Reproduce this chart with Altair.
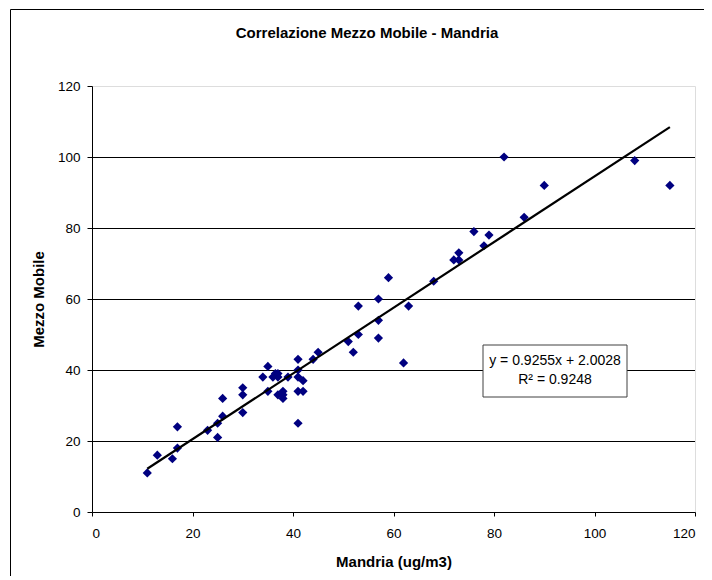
import altair as alt
import pandas as pd

# Data
mandria = [11, 13, 16, 17, 17, 23, 25, 25, 26, 26, 30, 30, 30, 34, 35, 35, 36, 36.5, 37, 37,
           37, 38, 38, 38, 39, 41, 41, 41, 42, 41, 42, 41, 44, 45, 51, 52, 53, 53, 57, 57,
           57, 59, 62, 63, 68, 72, 73, 73, 76, 78, 79, 82, 86, 90, 108, 115]
mezzo = [11, 16, 15, 24, 18, 23, 25, 21, 32, 27, 35, 33, 28, 38, 41, 34, 38, 39, 39, 38,
         33, 34, 33, 32, 38, 43, 40, 38, 37, 34, 34, 25, 43, 45, 48, 45, 58, 50, 60, 54,
         49, 66, 42, 58, 65, 71, 73, 71, 79, 75, 78, 100, 83, 92, 99, 92]

slope = 0.9255
intercept = 2.0028
trend_x = [11, 115]
grid_values = [20, 40, 60, 80, 100]
tick_values = [0, 20, 40, 60, 80, 100, 120]
title_text = "Correlazione Mezzo Mobile - Mandria"
eq_lines = ["y = 0.9255x + 2.0028", "R\u00b2 = 0.9248"]

FONT = "Liberation Sans"

pts = pd.DataFrame({"x": mandria, "y": mezzo})
trend = pd.DataFrame({"x": trend_x, "y": [slope * v + intercept for v in trend_x]})
grid = pd.DataFrame({"y": grid_values})
one = pd.DataFrame({"k": [0]})

xscale = alt.Scale(domain=[0, 120], nice=False, zero=False)
yscale = alt.Scale(domain=[0, 120], nice=False, zero=False)

xaxis = alt.Axis(values=tick_values, grid=False, tickSize=4, labelPadding=10,
                 labelFont=FONT, labelFontSize=13.5, labelColor="black",
                 domainColor="black", tickColor="black",
                 title="Mandria (ug/m3)", titleFont=FONT, titleFontSize=15,
                 titleFontWeight="bold", titleColor="black",
                 titleX=301.5, titleY=49, titleBaseline="middle", titleAlign="center")
yaxis = alt.Axis(values=tick_values, grid=False, tickSize=5, labelPadding=7,
                 labelFont=FONT, labelFontSize=13.5, labelColor="black",
                 domainColor="black", tickColor="black",
                 title="Mezzo Mobile", titleFont=FONT, titleFontSize=15,
                 titleFontWeight="bold", titleColor="black",
                 titleX=-54, titleY=213, titleAngle=270,
                 titleBaseline="middle", titleAlign="center")

border = alt.Chart(one).mark_rect(fill="white", fillOpacity=0, stroke="black",
                                  strokeWidth=1).encode(
    x=alt.value(-81.5), x2=alt.value(640), y=alt.value(-76.5), y2=alt.value(520))

title = alt.Chart(one).mark_text(text=title_text, font=FONT, fontSize=15, fontWeight="bold",
                                 color="black", align="center", baseline="middle").encode(
    x=alt.value(275), y=alt.value(-53))

gridlines = alt.Chart(grid).mark_rule(color="black", strokeWidth=1, yOffset=0.5).encode(
    y=alt.Y("y:Q", scale=yscale, axis=yaxis))

points = alt.Chart(pts).mark_point(shape="diamond", filled=True, color="#000080",
                                   size=85, opacity=1).encode(
    x=alt.X("x:Q", scale=xscale, axis=xaxis),
    y=alt.Y("y:Q", scale=yscale, axis=yaxis))

line = alt.Chart(trend).mark_line(color="black", strokeWidth=2.2).encode(
    x=alt.X("x:Q", scale=xscale), y=alt.Y("y:Q", scale=yscale))

box = alt.Chart(one).mark_rect(fill="white", stroke="#404040", strokeWidth=1).encode(
    x=alt.value(391), x2=alt.value(535), y=alt.value(259), y2=alt.value(311))

eq1 = alt.Chart(one).mark_text(text=eq_lines[0], font=FONT, fontSize=14, color="black",
                               align="center", baseline="middle").encode(
    x=alt.value(463), y=alt.value(275))
eq2 = alt.Chart(one).mark_text(text=eq_lines[1], font=FONT, fontSize=14, color="black",
                               align="center", baseline="middle").encode(
    x=alt.value(463), y=alt.value(294))

chart = alt.layer(border, title, gridlines, points, line, box, eq1, eq2).properties(
    width=603, height=426,
    autosize=alt.AutoSizeParams(type="none"),
    padding={"left": 84, "top": 78, "right": 9, "bottom": 64},
).configure_view(stroke="#808080", strokeWidth=1).configure(background="white")

chart.save("out.html", embed_options={"renderer": "svg", "actions": False})
